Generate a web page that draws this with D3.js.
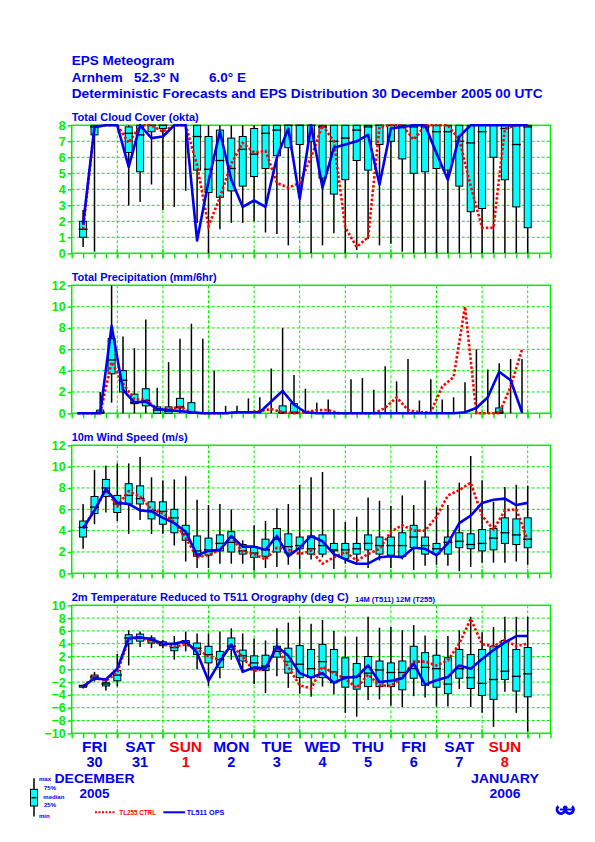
<!DOCTYPE html>
<html>
<head>
<meta charset="utf-8">
<script src="https://cdn.jsdelivr.net/npm/d3@7"></script>
<style>
  body { margin: 0; background: #fff; }
  svg { display: block; font-family: "Liberation Sans", Arial, Helvetica, sans-serif; font-weight: bold; }
</style>
</head>
<body>
<svg id="chart"></svg>
<script>
// Page and plot frame
const WIDTH = 595
const HEIGHT = 842
const LEFT = 71.7
const RIGHT = 550.5
const PANEL_HEIGHT = 128

const GREEN = "#00ee00"
const BLUE = "#0000f0"
const RED = "#ff0000"
const CYAN = "#00ffff"

// Lead times (hours after 30 December 2005 00 UTC), one per ensemble box
const hours = d3.range(6, 241, 6)

// Day labels under the last panel
const dayNames = ["FRI", "SAT", "SUN", "MON", "TUE", "WED", "THU", "FRI", "SAT", "SUN"]
const dayNums = ["30", "31", "1", "2", "3", "4", "5", "6", "7", "8"]

// Total cloud cover (okta)
const cloudMax = [2.7, 8, 8, 8, 8, 8, 8, 8, 8, 8, 8, 8, 8, 8, 8, 8, 8, 8, 8, 8,
  8, 8, 8, 8, 8, 8, 8, 8, 8, 8, 8, 8, 8, 8, 8, 8, 8, 8, 8, 8]
const cloudP75 = [2.0, 8, 8, 8, 7.9, 8, 8, 8, 8, 8, 8, 7.3, 7.7, 7.2, 7.3, 7.8, 8, 8, 8, 8,
  8, 8, 8, 8, 8, 8, 8, 8, 8, 8, 8, 8, 8, 8, 8, 8, 8, 8, 8, 8]
const cloudMed = [1.5, 7.9, 8, 8, 7.5, 7.4, 8, 8, 8, 8, 7.3, 5.25, 5.8, 5.3, 6.5, 6.2, 7.5, 7.7, 8, 8,
  8, 7.9, 7.0, 7.2, 7.7, 7.9, 8, 8, 8, 7.9, 7.9, 7.6, 7.6, 7.0, 6.9, 7.6, 8, 7.8, 6.8, 7.9]
const cloudP25 = [1.0, 7.4, 8, 8, 6.3, 5.1, 7.6, 7.8, 8, 8, 5.2, 3.8, 3.5, 3.9, 4.2, 4.8, 5.3, 6.1, 6.6, 6.8,
  7.0, 4.7, 3.7, 4.6, 5.8, 5.2, 6.8, 7.0, 5.9, 5.0, 5.1, 5.3, 5.2, 4.2, 2.6, 2.8, 6.0, 4.6, 2.9, 1.6]
const cloudMin = [0.4, 0.1, 8, 8, 3.0, 3.2, 4.3, 2.7, 2.9, 3.9, 1.9, 0, 1.5, 1.9, 1.9, 2.0, 1.3, 1.2, 0.5, 1.9,
  0, 0.5, 1.25, 0, 0.2, 0.9, 0.5, 0.6, 0.1, 0, 0, 0, 0, 0, 0, 0, 0, 0, 0, 0]
const cloudCtrl = [1.5, 7.9, 8, 8, 6.9, 8, 8, 7.6, 8, 8, 5.5, 1.7, 3.5, 5.6, 6.9, 6.3, 6.4, 4.4, 4.1, 4.4,
  6.0, 8, 7.0, 1.6, 0.4, 1.0, 7.9, 8, 8, 7.1, 8, 8, 8, 7.1, 4.2, 1.6, 1.6, 7.8, 8, 8]
const cloudOps = [1.8, 7.9, 8, 8, 5.4, 8, 7.2, 7.3, 8, 8, 0.8, 4.5, 7.6, 4.6, 2.9, 3.3, 2.9, 6.0, 7.8, 3.4,
  8, 4.1, 6.6, 6.8, 7.0, 7.4, 4.3, 7.8, 7.9, 8, 8, 6.25, 4.6, 7.3, 8, 8, 8, 8, 8, 8]

// Total precipitation (mm/6hr), plotted in the middle of each 6 h interval
const precMax = [0, 0, 2.0, 12, 7.2, 6.1, 8.8, 2.4, 4.8, 7.0, 8.4, 7.0, 4.0, 0.7, 0.7, 1.4, 1.5, 4.2, 8.0, 3.6,
  2.3, 1.0, 1.3, 0, 3.2, 3.3, 2.2, 4.4, 3.0, 5.1, 1.2, 3.2, 1.3, 1.5, 2.9, 6.0, 4.1, 4.7, 5.1, 5.1]
const precP75 = [0, 0, 0.3, 7.0, 4.0, 1.8, 2.3, 0.6, 0.6, 1.4, 1.0, 0, 0, 0, 0, 0, 0, 0, 0.7, 0.9,
  0, 0, 0, 0, 0, 0, 0, 0, 0, 0, 0, 0, 0, 0, 0, 0, 0, 0.5, 0, 0]
const precMed = [0, 0, 0.1, 5.0, 3.1, 1.0, 1.2, 0.3, 0.2, 0.6, 0.1, 0, 0, 0, 0, 0, 0, 0, 0.1, 0.1,
  0, 0, 0, 0, 0, 0, 0, 0, 0, 0, 0, 0, 0, 0, 0, 0, 0, 0.1, 0, 0]
const precP25 = [0, 0, 0, 3.7, 2.0, 0.9, 0.7, 0, 0, 0.5, 0, 0, 0, 0, 0, 0, 0, 0, 0, 0,
  0, 0, 0, 0, 0, 0, 0, 0, 0, 0, 0, 0, 0, 0, 0, 0, 0, 0, 0, 0]
const precMin = [0, 0, 0, 1.0, 0, 0, 0, 0, 0, 0, 0, 0, 0, 0, 0, 0, 0, 0, 0, 0,
  0, 0, 0, 0, 0, 0, 0, 0, 0, 0, 0, 0, 0, 0, 0, 0, 0, 0, 0, 0]
const precCtrl = [0, 0, 0, 4.8, 2.8, 1.3, 1.3, 0.4, 0.4, 0.6, 0.1, 0, 0, 0, 0.1, 0.1, 0.2, 0.4, 0.1, 0,
  0.1, 0.3, 0.3, 0, 0, 0, 0, 0.5, 1.5, 0.3, 0.1, 0.1, 2.5, 3.4, 10.0, 0, 0, 0, 2.5, 6.0]
const precOps = [0, 0, 0, 8.2, 2.2, 1.0, 1.1, 0.4, 0.3, 0.2, 0.1, 0, 0, 0, 0.1, 0.1, 0.1, 1.1, 2.1, 0.8,
  0.1, 0, 0, 0, 0, 0, 0, 0, 0, 0, 0, 0, 0, 0, 0.1, 0.5, 1.5, 3.9, 3.1, 0.1]

// 10m wind speed (m/s)
const windMax = [6.5, 9.7, 10.1, 10.3, 10.3, 10.9, 9.0, 8.7, 8.8, 9.1, 6.9, 6.4, 6.5, 6.0, 3.1, 4.5, 4.9, 6.1, 6.5, 8.3,
  9.0, 9.5, 6.0, 4.8, 5.3, 7.1, 6.8, 6.3, 7.3, 6.4, 8.7, 6.2, 6.4, 8.5, 11.0, 8.7, 6.7, 8.1, 8.3, 8.2]
const windP75 = [4.9, 7.2, 8.8, 7.3, 8.4, 8.2, 6.7, 6.7, 6.0, 4.5, 3.5, 3.3, 3.6, 3.9, 2.7, 2.5, 3.2, 4.2, 3.7, 3.4,
  3.5, 3.6, 2.8, 2.8, 2.8, 3.6, 3.4, 3.4, 3.8, 4.5, 3.4, 2.8, 3.4, 3.8, 3.7, 4.1, 4.2, 5.2, 5.1, 5.2]
const windMed = [4.3, 6.2, 8.0, 6.5, 7.3, 7.0, 5.9, 5.8, 5.2, 3.7, 2.1, 2.2, 2.8, 2.9, 2.1, 1.9, 2.2, 3.2, 2.5, 2.6,
  2.3, 2.6, 2.2, 2.2, 2.3, 2.8, 2.6, 2.6, 2.6, 3.4, 2.6, 2.3, 2.9, 3.0, 2.7, 2.8, 3.3, 3.8, 3.6, 3.2]
const windP25 = [3.4, 5.6, 7.2, 5.7, 6.5, 6.5, 5.1, 4.6, 3.8, 3.1, 1.6, 1.7, 2.1, 2.0, 1.8, 1.5, 1.6, 2.0, 1.9, 2.3,
  1.8, 1.8, 2.1, 1.4, 1.8, 2.2, 1.8, 1.7, 1.6, 2.4, 1.8, 1.8, 1.8, 2.4, 2.3, 2.1, 2.2, 2.8, 2.7, 2.4]
const windMin = [2.3, 4.6, 5.7, 4.9, 3.7, 5.0, 3.7, 3.7, 2.6, 1.1, 0.5, 0.5, 0.9, 0.9, 0.9, 0.3, 0.5, 0.6, 0.8, 0.4,
  1.3, 1.5, 0.4, 0.9, 0.9, 0.5, 1.2, 0.5, 1.3, 0.3, 0.7, 0.8, 0.7, 0.2, 0.6, 1.0, 1.0, 1.0, 1.1, 0.8]
const windCtrl = [4.3, 5.9, 7.8, 6.3, 7.7, 7.2, 6.0, 5.6, 4.8, 3.3, 1.5, 1.7, 2.2, 3.4, 2.0, 1.8, 1.3, 2.4, 2.2, 1.8,
  2.1, 0.9, 1.5, 2.0, 1.2, 1.8, 2.3, 3.9, 4.5, 4.0, 4.0, 5.3, 7.3, 7.8, 8.5, 5.4, 4.1, 5.9, 6.0, 3.1]
const windOps = [4.2, 5.9, 7.9, 6.6, 6.5, 5.9, 5.8, 5.2, 4.7, 3.9, 1.7, 2.1, 2.2, 3.5, 2.5, 2.5, 2.2, 3.5, 1.6, 2.4,
  3.5, 3.0, 1.8, 1.3, 0.9, 0.9, 1.5, 1.6, 1.5, 2.4, 2.3, 1.7, 2.8, 4.7, 5.4, 6.6, 6.9, 7.0, 6.4, 6.6]

// 2m temperature (deg C)
const tempMax = [-2.4, -0.4, -1.4, 2.4, 6.1, 5.9, 5.3, 4.6, 5.2, 5.9, 5.6, 5.6, 5.9, 6.4, 5.6, 4.8, 4.5, 6.4, 7.3, 8.2,
  7.1, 7.7, 6.0, 5.1, 5.1, 8.2, 6.5, 6.6, 6.1, 6.9, 5.3, 4.7, 5.2, 6.1, 8.2, 5.8, 6.6, 8.2, 8.2, 8.2]
const tempP75 = [-2.5, -0.9, -2.1, -0.2, 5.4, 5.5, 4.9, 4.3, 3.9, 4.5, 4.1, 3.6, 2.8, 4.9, 3.0, 2.1, 2.2, 3.6, 3.3, 3.7,
  3.1, 3.9, 3.1, 1.8, 0.9, 2.0, 1.3, 1.0, 1.3, 3.6, 2.6, 2.2, 1.8, 3.1, 2.3, 3.1, 3.6, 4.5, 3.1, 3.4]
const tempMed = [-2.6, -1.2, -2.3, -0.9, 4.9, 4.9, 4.5, 4.0, 3.4, 4.2, 3.3, 2.3, 1.5, 3.6, 2.1, 1.0, 0.5, 2.8, 1.2, 0.8,
  0.1, 1.2, -0.4, -1.2, -1.1, -0.6, -0.1, -0.5, -0.5, 0.1, 0.3, 0.1, -2.3, 0.1, -1.3, -2.2, -1.6, -0.3, -1.1, -0.7]
const tempP25 = [-2.8, -1.6, -2.6, -1.8, 4.0, 4.4, 4.1, 3.7, 2.9, 4.1, 2.3, 1.0, 0.3, 3.1, 1.3, -0.1, -0.2, 1.9, -0.6, -1.3,
  -1.3, -1.3, -2.1, -2.8, -3.1, -2.7, -2.7, -2.7, -3.2, -1.4, -2.5, -2.8, -3.8, -1.4, -3.0, -4.1, -4.7, -1.6, -3.4, -4.3]
const tempMin = [-3.0, -1.9, -3.3, -2.7, 0.6, 3.5, 3.3, 3.3, 1.5, 2.8, 0.0, -2.6, -1.4, 1.5, -0.4, -2.3, -3.7, -1.1, -2.9, -3.8,
  -4.3, -2.7, -3.9, -6.8, -7.4, -4.8, -4.7, -5.7, -5.9, -4.2, -4.4, -5.8, -5.8, -3.1, -5.9, -6.8, -9.0, -3.5, -6.8, -9.7]
const tempCtrl = [-2.6, -1.3, -1.8, -0.5, 4.7, 4.9, 4.4, 3.9, 3.5, 3.9, 3.2, 2.0, 1.5, 3.8, 1.9, -0.3, 0.2, 3.4, 0.3, -2.5,
  -3.0, 0.4, -0.6, -1.5, -2.9, -0.8, -2.5, -2.6, -1.2, 1.2, 1.2, 0.6, 1.4, 4.0, 7.9, 3.9, 3.6, 4.6, 3.6, 4.0]
const tempOps = [-2.7, -1.4, -1.6, 0.1, 4.9, 5.0, 4.7, 4.0, 4.0, 4.4, 2.6, -1.8, 1.2, 3.9, -0.4, 0.3, 0.1, 3.6, 2.1, -0.6,
  -1.3, -0.6, -2.1, -1.3, -1.2, 0.6, -2.0, -1.8, -1.4, 0.9, -2.4, -1.7, -1.2, 0.6, 0.1, 1.6, 3.0, 4.2, 5.2, 5.2]

// Panel table built from the arrays above
const panels = [
  { title: "Total Cloud Cover (okta)", titleWidth: 127, top: 125.3, domain: [0, 8], ticks: d3.range(0, 9, 1), shift: 0,
    max: cloudMax, p75: cloudP75, med: cloudMed, p25: cloudP25, min: cloudMin, ctrl: cloudCtrl, ops: cloudOps },
  { title: "Total Precipitation (mm/6hr)", titleWidth: 145, top: 285.3, domain: [0, 12], ticks: d3.range(0, 13, 2), shift: 3,
    max: precMax, p75: precP75, med: precMed, p25: precP25, min: precMin, ctrl: precCtrl, ops: precOps },
  { title: "10m Wind Speed (m/s)", titleWidth: 116, top: 445.3, domain: [0, 12], ticks: d3.range(0, 13, 2), shift: 0,
    max: windMax, p75: windP75, med: windMed, p25: windP25, min: windMin, ctrl: windCtrl, ops: windOps },
  { title: "2m Temperature Reduced to T511 Orography (deg C)", titleWidth: 277, top: 605.3, domain: [-10, 10], ticks: d3.range(-10, 11, 2), shift: 0,
    max: tempMax, p75: tempP75, med: tempMed, p25: tempP25, min: tempMin, ctrl: tempCtrl, ops: tempOps },
]

const svg = d3.select("#chart").attr("width", WIDTH).attr("height", HEIGHT)

// Time axis: 0 .. 252 h (10.5 days)
const x = d3.scaleLinear().domain([0, 252]).range([LEFT, RIGHT])
const dayBounds = d3.range(24, 241, 24)

// Header
const header = svg.append("g").attr("fill", BLUE).attr("font-size", 13.5)
header.append("text").attr("x", LEFT).attr("y", 65).text("EPS Meteogram")
header.append("text").attr("x", LEFT).attr("y", 81.7).text("Arnhem")
header.append("text").attr("x", 134).attr("y", 81.7).text("52.3\u00b0 N")
header.append("text").attr("x", 209).attr("y", 81.7).text("6.0\u00b0 E")
header.append("text").attr("x", LEFT).attr("y", 98.3)
  .attr("textLength", 471).attr("lengthAdjust", "spacingAndGlyphs")
  .text("Deterministic Forecasts and EPS Distribution 30 December 2005  00 UTC")

function drawPanel(p) {
  const bottom = p.top + PANEL_HEIGHT
  const y = d3.scaleLinear().domain(p.domain).range([bottom, p.top])
  const g = svg.append("g")

  // dashed grid
  g.selectAll(".hgrid").data(p.ticks.slice(1, -1)).join("line")
    .attr("x1", LEFT).attr("x2", RIGHT)
    .attr("y1", (d) => y(d)).attr("y2", (d) => y(d))
    .attr("stroke", GREEN).attr("stroke-width", 1).attr("stroke-dasharray", "3,2")
  g.selectAll(".vgrid").data(dayBounds).join("line")
    .attr("x1", (d) => x(d)).attr("x2", (d) => x(d))
    .attr("y1", p.top).attr("y2", bottom)
    .attr("stroke", GREEN).attr("stroke-width", 1).attr("stroke-dasharray", "3,2")

  // frame
  g.append("rect").attr("x", LEFT).attr("y", p.top)
    .attr("width", RIGHT - LEFT).attr("height", PANEL_HEIGHT)
    .attr("fill", "none").attr("stroke", GREEN).attr("stroke-width", 1.5)

  // left axis
  const yAxis = g.append("g").attr("transform", `translate(${LEFT},0)`)
    .call(d3.axisLeft(y).tickValues(p.ticks).tickSize(4).tickPadding(2).tickFormat(d3.format("d")))
  yAxis.select(".domain").remove()
  yAxis.selectAll("line").attr("stroke", GREEN).attr("stroke-width", 1.5)
  yAxis.selectAll("text").attr("fill", GREEN).attr("font-size", 12.5)
    .attr("font-family", "'Liberation Sans', Arial, sans-serif").attr("font-weight", "bold")

  // bottom ticks every 6 h, longer at day boundaries
  const xAxis = g.append("g").attr("transform", `translate(0,${bottom})`)
    .call(d3.axisBottom(x).tickValues(d3.range(0, 253, 6)).tickSize(5).tickFormat(""))
  xAxis.select(".domain").remove()
  xAxis.selectAll("line").attr("stroke", GREEN).attr("stroke-width", 1.5)
  g.selectAll(".dtick").data(dayBounds).join("line")
    .attr("x1", (d) => x(d)).attr("x2", (d) => x(d))
    .attr("y1", bottom - 4).attr("y2", bottom + 5)
    .attr("stroke", GREEN).attr("stroke-width", 1.5)

  // title
  g.append("text").attr("x", LEFT).attr("y", p.top - 4)
    .attr("fill", BLUE).attr("font-size", 11)
    .attr("textLength", p.titleWidth).attr("lengthAdjust", "spacingAndGlyphs")
    .text(p.title)

  // ensemble distribution
  const rows = hours.map((h, i) => ({
    h: h - p.shift, max: p.max[i], p75: p.p75[i], med: p.med[i], p25: p.p25[i], min: p.min[i],
  }))
  g.selectAll(".whisker").data(rows.filter((d) => d.max > d.min)).join("line")
    .attr("x1", (d) => x(d.h)).attr("x2", (d) => x(d.h))
    .attr("y1", (d) => y(d.max)).attr("y2", (d) => y(d.min))
    .attr("stroke", "#000").attr("stroke-width", 1.5)
  const boxed = rows.filter((d) => d.p75 > d.p25)
  g.selectAll(".box").data(boxed).join("rect")
    .attr("x", (d) => x(d.h) - 3.5).attr("width", 7)
    .attr("y", (d) => y(d.p75)).attr("height", (d) => y(d.p25) - y(d.p75))
    .attr("fill", CYAN).attr("stroke", "#000").attr("stroke-width", 1)
  g.selectAll(".median").data(boxed).join("line")
    .attr("x1", (d) => x(d.h) - 4.5).attr("x2", (d) => x(d.h) + 4.5)
    .attr("y1", (d) => y(d.med)).attr("y2", (d) => y(d.med))
    .attr("stroke", "#000").attr("stroke-width", 1.3)

  // deterministic forecasts
  const line = (values) => d3.line()
    .x((_, i) => x(hours[i] - p.shift))
    .y((d) => y(d))(values)
  g.append("path").attr("d", line(p.ctrl))
    .attr("fill", "none").attr("stroke", RED).attr("stroke-width", 2.6)
    .attr("stroke-dasharray", "2.5,2")
  g.append("path").attr("d", line(p.ops))
    .attr("fill", "none").attr("stroke", BLUE).attr("stroke-width", 2.6)
    .attr("stroke-linejoin", "round")
}

panels.forEach(drawPanel)

// resolution note next to the temperature title
svg.append("text").attr("x", 355).attr("y", 601.5)
  .attr("fill", BLUE).attr("font-size", 7)
  .attr("textLength", 80).attr("lengthAdjust", "spacingAndGlyphs")
  .text("14M (T511) 12M (T255)")

// day labels
const days = svg.append("g").attr("text-anchor", "middle")
days.selectAll(".dname").data(dayNames).join("text")
  .attr("x", (_, i) => x(12 + 24 * i)).attr("y", 751.5).attr("font-size", 15.5)
  .attr("fill", (d) => (d === "SUN" ? RED : BLUE)).text((d) => d)
days.selectAll(".dnum").data(dayNums).join("text")
  .attr("x", (_, i) => x(12 + 24 * i)).attr("y", 766.5).attr("font-size", 14.5)
  .attr("fill", (_, i) => (dayNames[i] === "SUN" ? RED : BLUE)).text((d) => d)

const months = svg.append("g").attr("text-anchor", "middle").attr("fill", BLUE)
months.append("text").attr("x", x(12)).attr("y", 783.3).attr("font-size", 13)
  .attr("textLength", 80).attr("lengthAdjust", "spacingAndGlyphs").text("DECEMBER")
months.append("text").attr("x", x(12)).attr("y", 797.5).attr("font-size", 12.5)
  .attr("textLength", 30).attr("lengthAdjust", "spacingAndGlyphs").text("2005")
months.append("text").attr("x", x(228)).attr("y", 783.3).attr("font-size", 13)
  .attr("textLength", 68).attr("lengthAdjust", "spacingAndGlyphs").text("JANUARY")
months.append("text").attr("x", x(228)).attr("y", 797.5).attr("font-size", 12.5)
  .attr("textLength", 31).attr("lengthAdjust", "spacingAndGlyphs").text("2006")

// box-plot key
const key = svg.append("g")
key.append("line").attr("x1", 34).attr("x2", 34).attr("y1", 778.3).attr("y2", 816.5)
  .attr("stroke", "#000").attr("stroke-width", 1.5)
key.append("rect").attr("x", 30.5).attr("y", 789.3).attr("width", 7).attr("height", 16.7)
  .attr("fill", CYAN).attr("stroke", "#000")
key.append("line").attr("x1", 31.5).attr("x2", 36.5).attr("y1", 797.7).attr("y2", 797.7)
  .attr("stroke", "#000").attr("stroke-width", 1.5)
const keyLabels = [
  { t: "max", x: 39, y: 780.5 },
  { t: "75%", x: 44, y: 789.5 },
  { t: "median", x: 43.3, y: 799 },
  { t: "25%", x: 44, y: 806.5 },
  { t: "min", x: 39, y: 818 },
]
key.selectAll(".klab").data(keyLabels).join("text")
  .attr("x", (d) => d.x).attr("y", (d) => d.y).attr("font-size", 6).attr("fill", BLUE)
  .text((d) => d.t)

// line key
const lk = svg.append("g").attr("font-size", 6.5)
lk.append("line").attr("x1", 95).attr("x2", 116).attr("y1", 812.3).attr("y2", 812.3)
  .attr("stroke", RED).attr("stroke-width", 2).attr("stroke-dasharray", "2,1.5")
lk.append("text").attr("x", 119.3).attr("y", 815).attr("fill", RED)
  .attr("textLength", 36.7).attr("lengthAdjust", "spacingAndGlyphs").text("TL255 CTRL")
lk.append("line").attr("x1", 163.3).attr("x2", 185).attr("y1", 812.3).attr("y2", 812.3)
  .attr("stroke", BLUE).attr("stroke-width", 2)
lk.append("text").attr("x", 186.7).attr("y", 815).attr("fill", BLUE)
  .attr("textLength", 37.6).attr("lengthAdjust", "spacingAndGlyphs").text("TL511 OPS")

// centre logo
const arc = d3.arc().innerRadius(2.6).outerRadius(5.4)
  .startAngle(Math.PI * 0.22).endAngle(Math.PI * 1.78)
const logo = svg.append("g").attr("fill", BLUE)
logo.append("path").attr("d", arc()).attr("transform", "translate(561,809.5)")
logo.append("path").attr("d", arc()).attr("transform", "translate(569.5,809.5)")
logo.append("rect").attr("x", 560).attr("y", 808.5).attr("width", 14).attr("height", 2)
</script>
</body>
</html>
